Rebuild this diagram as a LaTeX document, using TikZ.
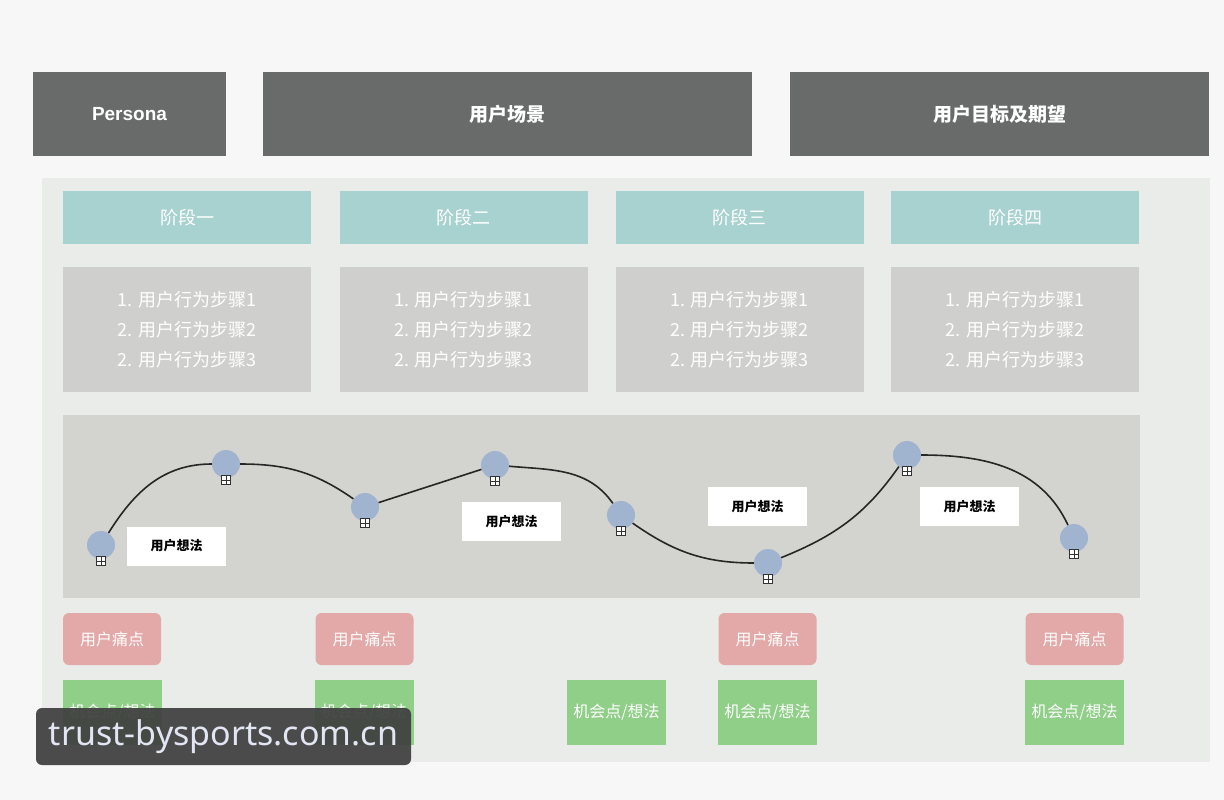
\documentclass[tikz,border=0pt]{standalone}
\usepackage{fontspec}
\setmainfont{Liberation Sans}
\newfontfamily\cjk{Noto Sans CJK SC}
\newfontfamily\wmfont{Noto Sans}
\usetikzlibrary{positioning}
\definecolor{bgc}{HTML}{F6F7F6}
\definecolor{panelc}{HTML}{EAECEA}
\definecolor{darkc}{HTML}{686B6A}
\definecolor{tealc}{HTML}{A8D2D0}
\definecolor{stepc}{HTML}{CFD0CD}
\definecolor{bigc}{HTML}{D3D3CF}
\definecolor{dotc}{HTML}{A0B4CF}
\definecolor{painc}{HTML}{E3A8A8}
\definecolor{oppc}{HTML}{8FCF88}
\definecolor{wmc}{HTML}{3F3F3F}
\definecolor{wmtext}{HTML}{E2E6F2}
\tikzset{
  px/.style={x=1pt,y=-1pt},
  headbox/.style={fill=darkc,draw=none,text=white,font=\cjk\bfseries\fontsize{19}{24}\selectfont},
  stagebox/.style={fill=tealc,draw=none,text=white,font=\cjk\fontsize{18}{22}\selectfont},
  stepbox/.style={fill=stepc,draw=none,text=white,font=\cjk\fontsize{18}{30}\selectfont,align=left},
  dot/.style={circle,fill=dotc,draw=none,minimum size=28pt,inner sep=0pt},
  plusbox/.style={draw=black!80,fill=white,line width=0.7pt,minimum size=9pt,inner sep=0pt,
    path picture={\draw[black!80,line width=0.7pt] (path picture bounding box.north)--(path picture bounding box.south)
    (path picture bounding box.west)--(path picture bounding box.east);}},
  ideabox/.style={fill=white,draw=none,text=black,font=\cjk\bfseries\fontsize{13}{16}\selectfont,minimum width=99pt,minimum height=39pt,inner sep=0pt},
  painbox/.style={fill=painc,draw=none,rounded corners=6pt,text=white,font=\cjk\fontsize{16}{20}\selectfont,minimum width=98pt,minimum height=52pt,inner sep=0pt},
  oppbox/.style={fill=oppc,draw=none,text=white,font=\cjk\fontsize{16}{20}\selectfont,minimum width=99pt,minimum height=65pt,inner sep=0pt},
  curve/.style={draw=black!85,line width=1.6pt}
}
\begin{document}
\begin{tikzpicture}[px]
\fill[bgc] (0,0) rectangle (1224,800);
\useasboundingbox (0,0) rectangle (1224,800);
% top headers
\node[headbox,minimum width=193pt,minimum height=84pt,font=\bfseries\fontsize{19}{24}\selectfont] (persona) at (129.5,114) {Persona};
\node[headbox,minimum width=489pt,minimum height=84pt] (scene) at (507.5,114) {用户场景};
\node[headbox,minimum width=419pt,minimum height=84pt] (goal) at (999.5,114) {用户目标及期望};
% panel
\fill[panelc] (42,178) rectangle (1210,762);
% stages
\foreach \i/\x/\t in {1/187/阶段一,2/463.5/阶段二,3/739.5/阶段三,4/1015/阶段四}{
  \node[stagebox,minimum width=248pt,minimum height=53pt,inner sep=0pt] (stage\i) at (\x,217.5) {\t};
  \node[stepbox,minimum width=248pt,minimum height=125pt,inner sep=0pt] (steps\i) at (\x,329.5)
    {1. 用户行为步骤1\\2. 用户行为步骤2\\2. 用户行为步骤3};
}
% big gray box
\fill[bigc] (63,415) rectangle (1140,598);
% dots
\foreach \i/\x/\y in {1/101/545,2/226/464,3/365/507,4/495/465,5/621/515,6/768/563,7/907/455,8/1074/538}{
  \node[dot] (d\i) at (\x,\y) {};
  \node[plusbox] (p\i) at (\x,\y+16) {};
}
% curve
\draw[curve] (d1) to[out=58,in=180] (d2);
\draw[curve] (d2) to[out=0,in=145] (d3);
\draw[curve] (d3) -- (d4);
\draw[curve] (d4) to[out=-5,in=125] (d5);
\draw[curve] (d5) to[out=-35,in=180] (d6);
\draw[curve] (d6) to[out=22,in=235] (d7);
\draw[curve] (d7) to[out=0,in=115] (d8);
% ideas
\node[ideabox] (i1) at (176.5,546) {用户想法};
\node[ideabox] (i2) at (511.5,521.5) {用户想法};
\node[ideabox] (i3) at (757.5,506.5) {用户想法};
\node[ideabox] (i4) at (969.5,506.5) {用户想法};
% pain points
\node[painbox] (pain1) at (112,639) {用户痛点};
\node[painbox] (pain2) at (364.5,639) {用户痛点};
\node[painbox] (pain3) at (767.5,639) {用户痛点};
\node[painbox] (pain4) at (1074.5,639) {用户痛点};
% opportunities
\node[oppbox] (opp1) at (112.5,712.5) {机会点/想法};
\node[oppbox] (opp2) at (364,712.5) {机会点/想法};
\node[oppbox] (opp3) at (616.5,712.5) {机会点/想法};
\node[oppbox] (opp4) at (767.5,712.5) {机会点/想法};
\node[oppbox] (opp5) at (1074.5,712.5) {机会点/想法};
% watermark
\node[fill=wmc,fill opacity=0.93,text opacity=1,rounded corners=6pt,text=wmtext,
  font=\wmfont\fontsize{34}{40}\selectfont,minimum width=375pt,minimum height=57pt,inner sep=0pt] (wm) at (223.5,736.5) {trust-bysports.com.cn};
\end{tikzpicture}
\end{document}
